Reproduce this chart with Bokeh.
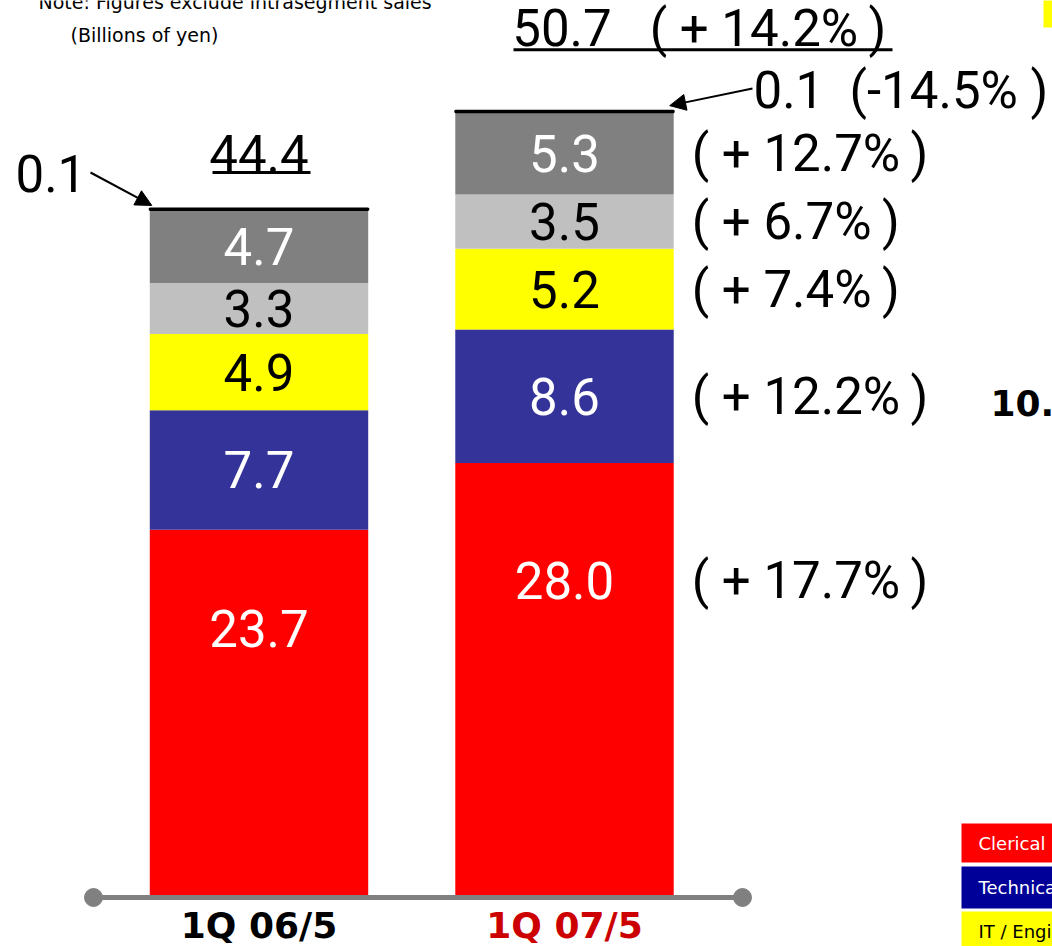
import numpy as np
from bokeh.plotting import figure
from bokeh.models import ColumnDataSource, Range1d, Arrow, NormalHead, Label
from bokeh.core.properties import value
from bokeh.embed import file_html
from bokeh.resources import INLINE

# ---- data (billions of yen) ----
categories = ["1Q 06/5", "1Q 07/5"]
clerical = [23.7, 28.0]
technical = [7.7, 8.6]
it_engineering = [4.9, 5.2]
segment_d = [3.3, 3.5]
segment_e = [4.7, 5.3]
segment_f = [0.1, 0.1]
totals = [44.4, 50.7]
# year-on-year change of each segment, bottom to top
yoy_change = ["+17.7%", "+12.2%", "+7.4%", "+6.7%", "+12.7%", "-14.5%"]
total_yoy = "+14.2%"
legend_names = ["Clerical", "Technical", "IT / Engineering"]

series = [clerical, technical, it_engineering, segment_d, segment_e, segment_f]
colors = ["#FF0000", "#333399", "#FFFF00", "#C0C0C0", "#808080", "#000000"]
label_colors = ["white", "white", "black", "black", "white", "black"]
legend_colors = ["#FF0000", "#000099", "#FFFF00"]
legend_text_colors = ["white", "white", "black"]

# ---- layout ----
W, H = 1052, 946
PX_PER_X = 305.5          # pixels between bar centres
X0_PX = 258.5             # pixel position of the first bar centre
BASE_PX = 897.0           # pixel row of the zero line
PX_PER_Y = 15.52          # pixels per billion yen
BAR_W = 0.715

NBSP = "\u00a0"
THIN = "\u2009"


def dx(px):
    return (px - X0_PX) / PX_PER_X


def dy(py):
    return (BASE_PX - py) / PX_PER_Y


NUM_FONT = "Roboto"
NUM_SIZE = "51px"


def fmt_change(s):
    sign, rest = s[0], s[1:]
    if sign == "+":
        return f"({NBSP}+{NBSP}{rest}{THIN})"
    return f"({s}{NBSP})"


p = figure(width=W, height=H, output_backend="svg", toolbar_location=None,
           x_range=Range1d(dx(0), dx(W)), y_range=Range1d(dy(H), dy(0)),
           x_axis_location=None, y_axis_location=None, min_border=0,
           outline_line_color=None, background_fill_color="white")
p.grid.visible = False

x = np.arange(len(categories))
vals = np.array(series)                     # shape (segments, categories)
bottoms = np.vstack([np.zeros(len(categories)), np.cumsum(vals, axis=0)[:-1]])

for i, (v, b, c) in enumerate(zip(vals, bottoms, colors)):
    src = ColumnDataSource(dict(x=x, top=b + v, bottom=b))
    lw = 2 if c == "#000000" else 0
    p.vbar(x="x", top="top", bottom="bottom", width=BAR_W, source=src,
           fill_color=c, line_color=c if lw else None, line_width=lw)

# value labels inside the bars (the large bottom segment label sits higher)
for i in range(5):
    v, b = vals[i], bottoms[i]
    ypos = b + v * (0.73 if i == 0 else 0.5)
    src = ColumnDataSource(dict(x=x, y=ypos, t=[f"{a:.1f}" for a in v]))
    p.text(x="x", y="y", text="t", source=src, text_align="center",
           text_baseline="middle", text_color=label_colors[i],
           text_font=value(NUM_FONT), text_font_size=NUM_SIZE)

    # year-on-year change beside the second bar
    p.add_layout(Label(x=1 + BAR_W / 2 + 18 / PX_PER_X, y=ypos[1], text=fmt_change(yoy_change[i]),
                       text_font=NUM_FONT, text_font_size=NUM_SIZE,
                       text_align="left", text_baseline="middle", text_color="black"))

# totals with underline
tot_y = [totals[0] + 55 / PX_PER_Y, totals[1] + 82 / PX_PER_Y]
p.add_layout(Label(x=0, y=tot_y[0], text=f"{totals[0]:.1f}", text_font=NUM_FONT,
                   text_font_size=NUM_SIZE, text_align="center", text_baseline="middle",
                   text_color="black"))
p.segment(x0=[dx(212)], x1=[dx(310)], y0=[tot_y[0] - 19 / PX_PER_Y], y1=[tot_y[0] - 19 / PX_PER_Y],
          line_color="black", line_width=3)
right_tot = f"{totals[1]:.1f}{NBSP * 3}{fmt_change(total_yoy)}"
p.add_layout(Label(x=1 - BAR_W / 2 + 57 / PX_PER_X, y=tot_y[1], text=right_tot, text_font=NUM_FONT,
                   text_font_size=NUM_SIZE, text_align="left", text_baseline="middle",
                   text_color="black"))
p.segment(x0=[dx(513)], x1=[dx(892)], y0=[tot_y[1] - 21 / PX_PER_Y], y1=[tot_y[1] - 21 / PX_PER_Y],
          line_color="black", line_width=3)

# small top segment called out with arrows
top0 = totals[0]
p.add_layout(Label(x=dx(15), y=dy(173), text=f"{segment_f[0]:.1f}", text_font=NUM_FONT,
                   text_font_size=NUM_SIZE, text_align="left", text_baseline="middle",
                   text_color="black"))
p.add_layout(Arrow(x_start=dx(90), y_start=dy(172), x_end=-BAR_W / 2 + 2 / PX_PER_X,
                   y_end=top0 + 3 / PX_PER_Y, line_width=2, line_color="black",
                   end=NormalHead(size=16, fill_color="black", line_color="black")))
p.add_layout(Label(x=dx(753), y=dy(90), text=f"{segment_f[1]:.1f}{NBSP * 2}{fmt_change(yoy_change[5])}",
                   text_font=NUM_FONT, text_font_size=NUM_SIZE,
                   text_align="left", text_baseline="middle", text_color="black"))
p.add_layout(Arrow(x_start=dx(752), y_start=dy(88), x_end=1 + BAR_W / 2 - 4 / PX_PER_X,
                   y_end=totals[1] + 5 / PX_PER_Y, line_width=2, line_color="black",
                   end=NormalHead(size=16, fill_color="black", line_color="black")))

# baseline with rounded ends
p.segment(x0=[dx(93)], x1=[dx(742)], y0=[0], y1=[0], line_color="#808080", line_width=5)
p.scatter(x=[dx(93), dx(742)], y=[0, 0], size=18, color="#808080")

# category labels
cat_colors = ["black", "#CC0000"]
for i, c in enumerate(categories):
    p.add_layout(Label(x=i, y=dy(925), text=c, text_font="DejaVu Sans", text_font_style="bold",
                       text_font_size="36px", text_align="center", text_baseline="middle",
                       text_color=cat_colors[i]))

# notes
p.add_layout(Label(x=dx(38), y=dy(1), text="Note: Figures exclude intrasegment sales",
                   text_font="DejaVu Sans", text_font_size="19px", text_align="left",
                   text_baseline="alphabetic", text_color="black"))
p.add_layout(Label(x=dx(70), y=dy(34), text="(Billions of yen)", text_font="DejaVu Sans",
                   text_font_size="19px", text_align="left", text_baseline="middle",
                   text_color="black"))

# right-hand panel fragments
p.add_layout(Label(x=dx(990), y=dy(402), text="10.", text_font="DejaVu Sans",
                   text_font_style="bold", text_font_size="36px", text_align="left",
                   text_baseline="middle", text_color="black"))
p.quad(left=[dx(1043)], right=[dx(1060)], top=[dy(-5)], bottom=[dy(27)],
       fill_color="#FFFF00", line_color=None)

# legend boxes
leg_rows = [(823, 862), (866, 908), (911, 955)]
for (t, b), name, fc, tc in zip(leg_rows, legend_names, legend_colors, legend_text_colors):
    p.quad(left=[dx(961)], right=[dx(1070)], top=[dy(t)], bottom=[dy(b)],
           fill_color=fc, line_color=None)
    p.add_layout(Label(x=dx(978), y=dy((t + min(b, 946)) / 2 + (0 if b < 946 else 2)), text=name,
                       text_font="DejaVu Sans", text_font_size="18px", text_align="left",
                       text_baseline="middle", text_color=tc))

open("out.html", "w").write(file_html(p, INLINE))
